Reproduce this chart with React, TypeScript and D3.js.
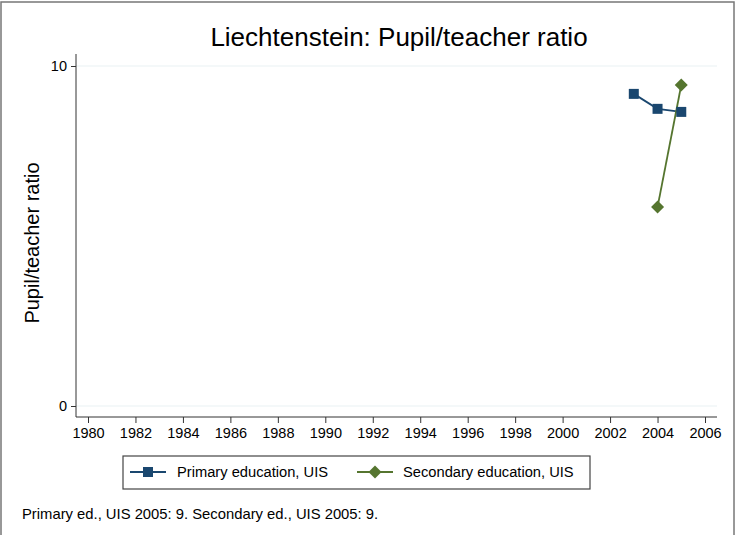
import React, { useEffect, useRef } from 'react';
import * as d3 from 'd3';

const W = 736, H = 535;
const margin = { left: 76, right: 19, top: 54, bottom: 118 };

const primaryYears = [2003, 2004, 2005];
const primaryValues = [9.18, 8.74, 8.65];
const secondaryYears = [2004, 2005];
const secondaryValues = [5.85, 9.44];
const xTicks = d3.range(1980, 2007, 2);
const yTicks = [0, 10];

const navy = '#1a476f';
const green = '#55752f';
const font = "'Liberation Sans', Arial, sans-serif";

// square rotated 45deg, like stata's diamond marker
const diamondPath = (r: number) => `M0,${-r}L${r},0L0,${r}L${-r},0Z`;

export default function App() {
  const ref = useRef<SVGSVGElement>(null);

  useEffect(() => {
    const svg = d3.select(ref.current);
    svg.selectAll('*').remove();

    const x = d3.scaleLinear().domain([1980, 2006]).range([88, 705]);
    const y = d3.scaleLinear().domain([0, 10]).range([406, 66]);
    const plotRight = W - margin.right;
    const axisY = 417;

    // outer frame
    svg.append('rect').attr('x', 1).attr('y', 2).attr('width', 733).attr('height', 545)
      .attr('fill', '#fff').attr('stroke', '#777').attr('stroke-width', 1.5);

    svg.append('text').attr('x', 399).attr('y', 46).attr('text-anchor', 'middle')
      .attr('font-family', font).attr('font-size', 26).attr('fill', '#000')
      .text('Liechtenstein: Pupil/teacher ratio');

    // grid
    svg.selectAll('.grid').data(yTicks).enter().append('line')
      .attr('x1', margin.left).attr('x2', plotRight)
      .attr('y1', d => y(d)).attr('y2', d => y(d))
      .attr('stroke', '#eaf2f3').attr('stroke-width', 1.2);

    // y axis
    const yAxis = svg.append('g').attr('transform', `translate(${margin.left},0)`)
      .call(d3.axisLeft(y).tickValues(yTicks).tickSize(5).tickPadding(4).tickFormat(d3.format('d')));
    yAxis.select('.domain').attr('d', `M0,${margin.top}V${axisY}`).attr('stroke', '#333');
    yAxis.selectAll('line').attr('stroke', '#333');
    yAxis.selectAll('text').attr('font-family', font).attr('font-size', 14.5).attr('fill', '#000');

    // x axis
    const xAxis = svg.append('g').attr('transform', `translate(0,${axisY})`)
      .call(d3.axisBottom(x).tickValues(xTicks).tickSize(6).tickPadding(5).tickFormat(d3.format('d')));
    xAxis.select('.domain').attr('d', `M${margin.left},0H${plotRight}`).attr('stroke', '#333');
    xAxis.selectAll('line').attr('stroke', '#333');
    xAxis.selectAll('text').attr('font-family', font).attr('font-size', 14.5).attr('fill', '#000');

    svg.append('text').attr('transform', `translate(39,243) rotate(-90)`)
      .attr('text-anchor', 'middle').attr('font-family', font).attr('font-size', 20)
      .text('Pupil/teacher ratio');

    const line = d3.line<[number, number]>().x(d => x(d[0])).y(d => y(d[1]));
    const primary: [number, number][] = primaryYears.map((yr, i) => [yr, primaryValues[i]]);
    const secondary: [number, number][] = secondaryYears.map((yr, i) => [yr, secondaryValues[i]]);

    svg.append('path').datum(primary).attr('d', line).attr('fill', 'none')
      .attr('stroke', navy).attr('stroke-width', 1.8);
    svg.append('path').datum(secondary).attr('d', line).attr('fill', 'none')
      .attr('stroke', green).attr('stroke-width', 1.8);

    const square = d3.symbol().type(d3.symbolSquare).size(100);

    svg.selectAll('.pm').data(primary).enter().append('path')
      .attr('transform', d => `translate(${x(d[0])},${y(d[1])})`)
      .attr('d', square).attr('fill', navy);
    svg.selectAll('.sm').data(secondary).enter().append('path')
      .attr('transform', d => `translate(${x(d[0])},${y(d[1])})`)
      .attr('d', diamondPath(6.5)).attr('fill', green);

    // legend
    const lg = svg.append('g');
    lg.append('rect').attr('x', 123).attr('y', 456).attr('width', 467).attr('height', 33)
      .attr('fill', '#fff').attr('stroke', '#444').attr('stroke-width', 1.2);
    lg.append('line').attr('x1', 130).attr('x2', 166).attr('y1', 472).attr('y2', 472)
      .attr('stroke', navy).attr('stroke-width', 1.8);
    lg.append('path').attr('transform', 'translate(148,472)').attr('d', square).attr('fill', navy);
    lg.append('text').attr('x', 177).attr('y', 477).attr('font-family', font).attr('font-size', 14.7)
      .text('Primary education, UIS');
    lg.append('line').attr('x1', 357).attr('x2', 393).attr('y1', 472).attr('y2', 472)
      .attr('stroke', green).attr('stroke-width', 1.8);
    lg.append('path').attr('transform', 'translate(375,472)').attr('d', diamondPath(6.5)).attr('fill', green);
    lg.append('text').attr('x', 403).attr('y', 477).attr('font-family', font).attr('font-size', 14.7)
      .text('Secondary education, UIS');

    svg.append('text').attr('x', 22).attr('y', 519).attr('font-family', font).attr('font-size', 14.8)
      .text('Primary ed., UIS 2005: 9. Secondary ed., UIS 2005: 9.');
  }, []);

  return (
    <svg ref={ref} width={W} height={H}
      style={{ position: 'absolute', left: 0, top: 0, display: 'block' }} />
  );
}
